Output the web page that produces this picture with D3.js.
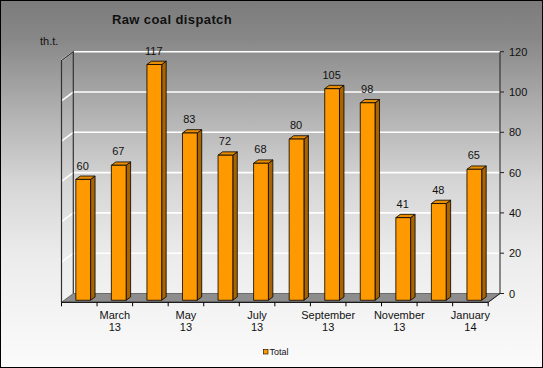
<!DOCTYPE html>
<html><head><meta charset="utf-8">
<script src="https://cdn.jsdelivr.net/npm/d3@7/dist/d3.min.js"></script>
<style>html,body{margin:0;padding:0;background:#fff}svg{display:block}text{font-family:"Liberation Sans",Arial,sans-serif}</style>
</head><body><svg id="c" width="543" height="368"></svg>
<script>
const categories = ["February 13","March 13","April 13","May 13","June 13","July 13","August 13","September 13","October 13","November 13","December 13","January 14"];
const shownLabels = [null,["March","13"],null,["May","13"],null,["July","13"],null,["September","13"],null,["November","13"],null,["January","14"]];
const values = [60,67,117,83,72,68,80,105,98,41,48,65];
const yTicks = [0,20,40,60,80,100,120];
const seriesName = "Total";
const title = "Raw coal dispatch";
const unit = "th.t.";

(function(){
const svg = d3.select("#c");
const W = 543, H = 368;
const defs = svg.append("defs");
const g = defs.append("linearGradient").attr("id","bg").attr("x1",0).attr("y1",0).attr("x2",0).attr("y2",1);
[[0,"#7c7c7c"],[0.1,"#878787"],[0.3,"#b0b0b0"],[0.5,"#d6d6d6"],[0.7,"#ececec"],[1,"#fbfbfb"]].forEach(s=>g.append("stop").attr("offset",s[0]).attr("stop-color",s[1]));
svg.append("rect").attr("x",0.5).attr("y",0.5).attr("width",W-1).attr("height",H-1).attr("fill","url(#bg)").attr("stroke","#000");

const DX = -11.8, DY = 8.8;
const x = d3.scaleBand().domain(categories).range([73.3,500]).padding(0);
const y = d3.scaleLinear().domain([0,120]).range([293.5,51.7]);
const P = (px,py,d)=>[px+d*DX, py+d*DY];
const line = d3.line();

// floor
const fl = [P(73.3,y(0),0),P(500,y(0),0),P(500,y(0),1),P(73.3,y(0),1)];
svg.append("path").attr("d",line(fl)+"Z").attr("fill","#8d8d8d").attr("stroke","#555").attr("stroke-width",0.8);

// gridlines
yTicks.filter(t=>t>0).forEach(t=>{
  const a=P(73.3,y(t),1), b=P(73.3,y(t),0), c=P(500,y(t),0);
  svg.append("path").attr("d",line([a,b,c])).attr("fill","none").attr("stroke","#fff").attr("stroke-width",1.6);
});

// left wall edges
const yTop=y(120);
svg.append("path").attr("d",line([P(73.3,y(0),1),P(73.3,yTop,1),P(73.3,yTop,0),P(73.3,y(0),0)])).attr("fill","none").attr("stroke","#333").attr("stroke-width",1.2);

// right axis
svg.append("path").attr("d",line([P(500,y(0),1),P(500,y(0),0),[500,yTop]])).attr("fill","none").attr("stroke","#222").attr("stroke-width",1);
yTicks.forEach(t=>{
  svg.append("line").attr("x1",500).attr("x2",504).attr("y1",y(t)).attr("y2",y(t)).attr("stroke","#222");
  svg.append("text").attr("x",509).attr("y",y(t)+4).attr("font-size",11).attr("fill","#111").text(t);
});

// front axis
const fy = y(0)+DY;
svg.append("line").attr("x1",73.3+DX).attr("x2",500+DX).attr("y1",fy).attr("y2",fy).attr("stroke","#000");
const bounds = categories.map(c=>x(c)).concat([x.range()[1]]);
bounds.forEach(b=>svg.append("line").attr("x1",b+DX).attr("x2",b+DX).attr("y1",fy).attr("y2",fy+4).attr("stroke","#000"));
categories.forEach((c,i)=>{
  const lab=shownLabels[i]; if(!lab) return;
  const cx = x(c)+x.bandwidth()/2+DX;
  const t=svg.append("text").attr("text-anchor","middle").attr("font-size",11).attr("fill","#111");
  t.append("tspan").attr("x",cx).attr("y",319).text(lab[0]);
  t.append("tspan").attr("x",cx).attr("y",331).text(lab[1]);
});

// bars
const dF=0.77, dB=0.39, bw=x.bandwidth()*0.415;
categories.forEach((c,i)=>{
  const cx = x(c)+x.bandwidth()/2+1.2;
  const x0=cx-bw/2, x1=cx+bw/2, yt=y(values[i]), yb=y(0);
  const front=[P(x0,yb,dF),P(x1,yb,dF),P(x1,yt,dF),P(x0,yt,dF)];
  const side=[P(x1,yb,dF),P(x1,yb,dB),P(x1,yt,dB),P(x1,yt,dF)];
  const topf=[P(x0,yt,dF),P(x1,yt,dF),P(x1,yt,dB),P(x0,yt,dB)];
  svg.append("path").attr("d",line(side)+"Z").attr("fill","#a86400").attr("stroke","#000").attr("stroke-width",0.8).attr("stroke-linejoin","round");
  svg.append("path").attr("d",line(topf)+"Z").attr("fill","#e88c00").attr("stroke","#000").attr("stroke-width",0.8).attr("stroke-linejoin","round");
  svg.append("path").attr("d",line(front)+"Z").attr("fill","#ff9900").attr("stroke","#000").attr("stroke-width",0.8).attr("stroke-linejoin","round");
  const lp=P(cx,yt,dF);
  svg.append("text").attr("x",lp[0]-0.5).attr("y",P(x0,yt,dB)[1]-6.5).attr("text-anchor","middle").attr("font-size",11).attr("fill","#111").text(values[i]);
});

// title & unit
svg.append("text").attr("x",172).attr("y",24).attr("text-anchor","middle").attr("font-size",13).attr("font-weight","bold").attr("letter-spacing",0.4).attr("fill","#111").text(title);
svg.append("text").attr("x",40).attr("y",45).attr("font-size",11).attr("fill","#111").text(unit);

// legend
svg.append("rect").attr("x",263.5).attr("y",349.5).attr("width",4.5).attr("height",4.5).attr("fill","#ff9900").attr("stroke","#000").attr("stroke-width",0.6);
svg.append("text").attr("x",269.5).attr("y",355).attr("font-size",9).attr("fill","#111").text(seriesName);
})();
</script></body></html>
